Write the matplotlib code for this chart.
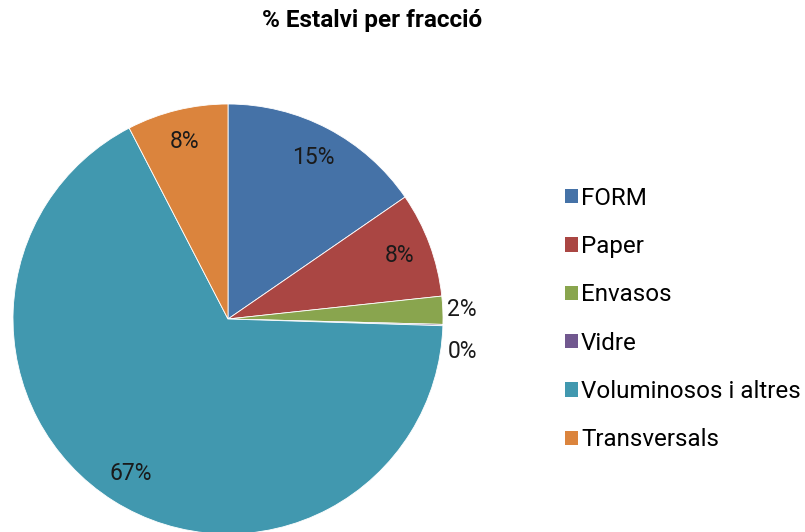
import matplotlib
matplotlib.use("Agg")
import matplotlib.pyplot as plt
from matplotlib.patches import Patch
import numpy as np

plt.rcParams["font.family"] = ["Roboto", "DejaVu Sans"]

# dades llegides del grafic (%)
categories = ["FORM", "Paper", "Envasos", "Vidre", "Voluminosos i altres", "Transversals"]
values = [15.4, 7.9, 2.1, 0.1, 66.9, 7.6]
labels_pct = ["15%", "8%", "2%", "0%", "67%", "8%"]
colors = ["#4572A7", "#AA4643", "#89A54E", "#71588F", "#4198AF", "#DB843D"]

W, H = 805, 532
fig = plt.figure(figsize=(W / 100, H / 100), dpi=100)

# centre (228,319) px, radi 215 px
cx, cy, R = 228, 319, 215
ax = fig.add_axes([(cx - R) / W, (H - cy - R) / H, 2 * R / W, 2 * R / H])
wedges, _ = ax.pie(values, colors=colors, startangle=90, counterclock=False,
                   radius=1.0, wedgeprops=dict(edgecolor="white", linewidth=0.6))
ax.set_xlim(-1, 1)
ax.set_ylim(-1, 1)
ax.set_aspect("equal")
ax.axis("off")

for i, (w, lab) in enumerate(zip(wedges, labels_pct)):
    mid = np.deg2rad((w.theta1 + w.theta2) / 2)
    r = 1.09 if values[i] < 5 else 0.85
    x, y = r * np.cos(mid), r * np.sin(mid)
    if categories[i] == "Vidre":
        y -= 0.12
    ax.text(x, y, lab, ha="center", va="center", fontsize=16.5, color="#1a1a1a")

fig.text(372 / W, 1 - 20 / H, "% Estalvi per fracció", ha="center", va="center",
         fontsize=17.5, fontweight="bold")

handles = [Patch(facecolor=c, edgecolor="none") for c in colors]
fig.legend(handles, categories, loc="center left", bbox_to_anchor=(565 / W, 1 - 319 / H),
           frameon=False, fontsize=17.4, handlelength=0.54, handleheight=0.54,
           handletextpad=0.12, labelspacing=1.05, borderpad=0, borderaxespad=0)

fig.savefig("out.png", dpi=100)
